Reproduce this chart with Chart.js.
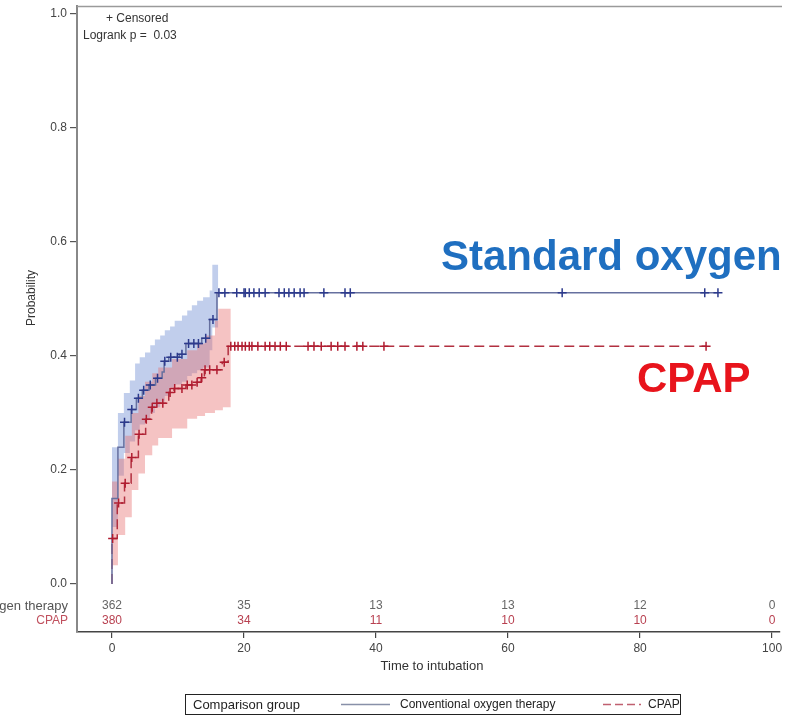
<!DOCTYPE html>
<html>
<head>
<meta charset="utf-8">
<script src="https://cdn.jsdelivr.net/npm/chart.js@4.4.0/dist/chart.umd.min.js"></script>
<style>
  html, body { margin: 0; padding: 0; background: #fff; }
</style>
</head>
<body>
<canvas id="km" width="787" height="716"></canvas>
<script>
// ─── DATA ──────────────────────────────────────────────────────────
// Conventional oxygen therapy (step curve)
const blueTimes = [0, 0, 0.9, 1.8, 2.9, 3.7, 4.6, 5.6, 6.6, 7.6, 7.9, 8.6, 10.2, 11.2, 13.6, 14.8, 15.9, 91.8];
const blueProb  = [0, 0.15, 0.24, 0.284, 0.306, 0.326, 0.340, 0.349, 0.361, 0.372, 0.391, 0.398, 0.403, 0.422, 0.431, 0.464, 0.511, 0.511];
const blueCensor = [1.9, 3.0, 4.0, 4.8, 5.8, 6.9, 8.0, 8.9, 9.9, 10.6, 11.6, 12.4, 13.1, 14.2, 15.3,
                    16.2, 17.1, 18.9, 20.0, 20.2, 20.8, 21.5, 22.3, 23.2, 25.3, 26.1, 26.8, 27.6, 28.5, 29.1,
                    32.1, 35.3, 36.1, 68.2, 89.8, 91.8];
const blueBandT  = [0, 0.9, 1.8, 2.7, 3.5, 4.2, 5.0, 5.8, 6.5, 7.3, 8.0, 8.8, 9.5, 10.6, 11.4, 12.1, 12.9, 13.8, 14.8, 15.2, 16.1];
const blueBandHi = [0.24, 0.30, 0.335, 0.357, 0.387, 0.398, 0.406, 0.419, 0.429, 0.436, 0.445, 0.452, 0.462, 0.471, 0.48, 0.489, 0.497, 0.503, 0.515, 0.56, 0.56];
const blueBandLo = [0.10, 0.19, 0.23, 0.25, 0.27, 0.28, 0.29, 0.30, 0.31, 0.32, 0.33, 0.345, 0.35, 0.355, 0.365, 0.37, 0.375, 0.38, 0.41, 0.45, 0.45];

// CPAP (step curve)
const redTimes = [0, 0, 0.8, 1.9, 2.9, 4.0, 5.1, 6.0, 6.7, 8.6, 9.4, 11.2, 12.8, 13.5, 14.0, 16.7, 17.6, 90];
const redProb  = [0, 0.08, 0.142, 0.177, 0.222, 0.263, 0.289, 0.31, 0.317, 0.336, 0.343, 0.349, 0.354, 0.362, 0.376, 0.389, 0.417, 0.417];
const redCensor = [0.1, 1.0, 2.0, 3.0, 4.1, 5.2, 6.1, 6.8, 7.7, 8.8, 9.5, 10.6, 11.4, 12.1, 12.9, 13.6, 14.1, 14.8, 15.9, 17.0,
                   18.0, 18.6, 19.1, 19.7, 20.2, 20.8, 21.2, 22.1, 23.2, 23.9, 24.7, 25.5, 26.4, 29.7, 30.6, 31.7,
                   33.2, 34.2, 35.3, 37.1, 38.0, 41.2, 90];
const redBandT  = [0, 0.9, 2.0, 3.0, 4.0, 5.0, 6.1, 7.0, 9.1, 11.4, 12.9, 14.1, 15.6, 16.1, 16.8, 18.0];
const redBandLo = [0.033, 0.086, 0.117, 0.165, 0.194, 0.226, 0.243, 0.256, 0.273, 0.29, 0.295, 0.30, 0.305, 0.305, 0.31, 0.31];
const redBandHi = [0.18, 0.22, 0.26, 0.30, 0.33, 0.355, 0.37, 0.38, 0.395, 0.41, 0.422, 0.436, 0.462, 0.483, 0.483, 0.483];

// Numbers at risk
const riskTimes = [0, 20, 40, 60, 80, 100];
const riskBlue  = [362, 35, 13, 13, 12, 0];
const riskRed   = [380, 34, 11, 10, 10, 0];

const xTicks = [0, 20, 40, 60, 80, 100];
const yTicks = [0, 0.2, 0.4, 0.6, 0.8, 1.0];

// ─── HELPERS ───────────────────────────────────────────────────────
const FONT = '"Liberation Sans", Arial, sans-serif';

function pts(ts, vs) { return ts.map((t, i) => ({ x: t, y: vs[i] })); }

function stepValue(ts, vs, t) {
    let v = vs[0];
    for (let i = 0; i < ts.length; i++) if (ts[i] <= t) v = vs[i];
    return v;
}

function censorPts(cs, ts, vs) { return cs.map(t => ({ x: t, y: stepValue(ts, vs, t) })); }

// ─── OVERLAY (texts, frame, at-risk table, legend) ─────────────────
const overlay = {
    id: 'overlay',
    afterDraw(chart) {
        const { ctx, chartArea: a, scales: { x, y } } = chart;
        ctx.save();

        // top frame line
        ctx.strokeStyle = '#9a9a9a';
        ctx.lineWidth = 1.5;
        ctx.beginPath(); ctx.moveTo(a.left, a.top + 0.5); ctx.lineTo(a.right + 2, a.top + 0.5); ctx.stroke();

        // inset key
        ctx.fillStyle = '#333';
        ctx.font = '12px ' + FONT;
        ctx.textBaseline = 'middle';
        ctx.textAlign = 'left';
        ctx.fillText('+ Censored', 106, 19);
        ctx.fillText('Logrank p =  0.03', 83, 36);

        // axis titles
        ctx.textAlign = 'center';
        ctx.font = '13px ' + FONT;
        ctx.fillText('Time to intubation', 432, 666);
        ctx.save();
        ctx.translate(32, 298);
        ctx.rotate(-Math.PI / 2);
        ctx.font = '12px ' + FONT;
        ctx.fillText('Probability', 0, 0);
        ctx.restore();

        // numbers at risk
        const row1 = y.getPixelForValue(0) + 22;
        const row2 = y.getPixelForValue(0) + 37;
        ctx.font = '13px ' + FONT;
        ctx.textAlign = 'right';
        ctx.fillStyle = '#555';
        ctx.fillText('Conventional oxygen therapy', 68, row1);
        ctx.font = '12px ' + FONT;
        ctx.fillStyle = '#c0505e';
        ctx.fillText('CPAP', 68, row2);
        ctx.textAlign = 'center';
        riskTimes.forEach((t, i) => {
            const px = x.getPixelForValue(t);
            ctx.fillStyle = '#666';
            ctx.fillText(String(riskBlue[i]), px, row1);
            ctx.fillStyle = '#b84050';
            ctx.fillText(String(riskRed[i]), px, row2);
        });

        // big annotations
        ctx.textAlign = 'left';
        ctx.textBaseline = 'alphabetic';
        ctx.font = 'bold 42px ' + FONT;
        ctx.fillStyle = '#1f6fc0';
        ctx.fillText('Standard oxygen', 441, 270);
        ctx.fillStyle = '#e8141c';
        ctx.fillText('CPAP', 637, 392);

        // bottom legend
        ctx.strokeStyle = '#222';
        ctx.lineWidth = 1;
        ctx.strokeRect(185.5, 694.5, 495, 20);
        ctx.textBaseline = 'middle';
        ctx.fillStyle = '#222';
        ctx.font = '13px ' + FONT;
        ctx.fillText('Comparison group', 193, 705);
        ctx.strokeStyle = '#8890a8';
        ctx.lineWidth = 1.5;
        ctx.beginPath(); ctx.moveTo(341, 704.5); ctx.lineTo(390, 704.5); ctx.stroke();
        ctx.font = '12px ' + FONT;
        ctx.fillText('Conventional oxygen therapy', 400, 705);
        ctx.strokeStyle = '#c06070';
        ctx.setLineDash([8, 4]);
        ctx.beginPath(); ctx.moveTo(603, 704.5); ctx.lineTo(641, 704.5); ctx.stroke();
        ctx.setLineDash([]);
        ctx.fillText('CPAP', 648, 705);

        ctx.restore();
    }
};

// ─── CHART ─────────────────────────────────────────────────────────
const cross = (color) => ({
    type: 'line', showLine: false, pointStyle: 'cross', pointRadius: 4.5,
    pointBorderWidth: 1.5, pointBorderColor: color, pointBackgroundColor: color
});

new Chart(document.getElementById('km'), {
    type: 'line',
    data: {
        datasets: [
            { ...cross('#2c3a8c'), data: censorPts(blueCensor, blueTimes, blueProb), order: 0 },
            { ...cross('#b01c30'), data: censorPts(redCensor, redTimes, redProb), order: 0 },
            { data: pts(blueTimes, blueProb), stepped: true, borderColor: '#66709f', borderWidth: 1.5,
              pointRadius: 0, fill: false, order: 1 },
            { data: pts(redTimes, redProb), stepped: true, borderColor: '#b23040', borderWidth: 1.5,
              borderDash: [10, 5], pointRadius: 0, fill: false, order: 1 },
            // index 4,5: CPAP band
            { data: pts(redBandT, redBandHi), stepped: true, borderWidth: 0, pointRadius: 0, fill: false, order: 2 },
            { data: pts(redBandT, redBandLo), stepped: true, borderWidth: 0, pointRadius: 0,
              fill: 4, backgroundColor: 'rgba(232,112,112,0.42)', order: 2 },
            // index 6,7: oxygen band
            { data: pts(blueBandT, blueBandHi), stepped: true, borderWidth: 0, pointRadius: 0, fill: false, order: 3 },
            { data: pts(blueBandT, blueBandLo), stepped: true, borderWidth: 0, pointRadius: 0,
              fill: 6, backgroundColor: 'rgba(125,152,215,0.48)', order: 3 }
        ]
    },
    options: {
        responsive: false,
        animation: false,
        devicePixelRatio: 1,
        layout: { padding: { top: 5, right: 7, left: 0, bottom: 0 } },
        plugins: { legend: { display: false }, tooltip: { enabled: false } },
        scales: {
            x: {
                type: 'linear', min: -5.3, max: 101.2,
                afterBuildTicks: s => { s.ticks = xTicks.map(v => ({ value: v })); },
                afterFit: s => { s.height = 84; s.paddingLeft = 0; s.paddingRight = 0; },
                grid: { drawOnChartArea: false, drawTicks: true, tickLength: 6, color: '#444', lineWidth: 1.2 },
                border: { display: true, color: '#444', width: 1.5 },
                ticks: { color: '#444', font: { family: FONT, size: 12 }, padding: 3, maxRotation: 0,
                         callback: v => String(v) }
            },
            y: {
                type: 'linear', min: -0.0841, max: 1.014,
                afterBuildTicks: s => { s.ticks = yTicks.map(v => ({ value: v })); },
                afterFit: s => { s.width = 77; s.paddingTop = 0; s.paddingBottom = 0; },
                grid: { drawOnChartArea: false, drawTicks: true, tickLength: 7, color: '#555', lineWidth: 1.2 },
                border: { display: true, color: '#888', width: 2 },
                ticks: { color: '#444', font: { family: FONT, size: 12 }, padding: 3,
                         callback: v => v.toFixed(1) }
            }
        }
    },
    plugins: [overlay]
});
</script>
</body>
</html>
